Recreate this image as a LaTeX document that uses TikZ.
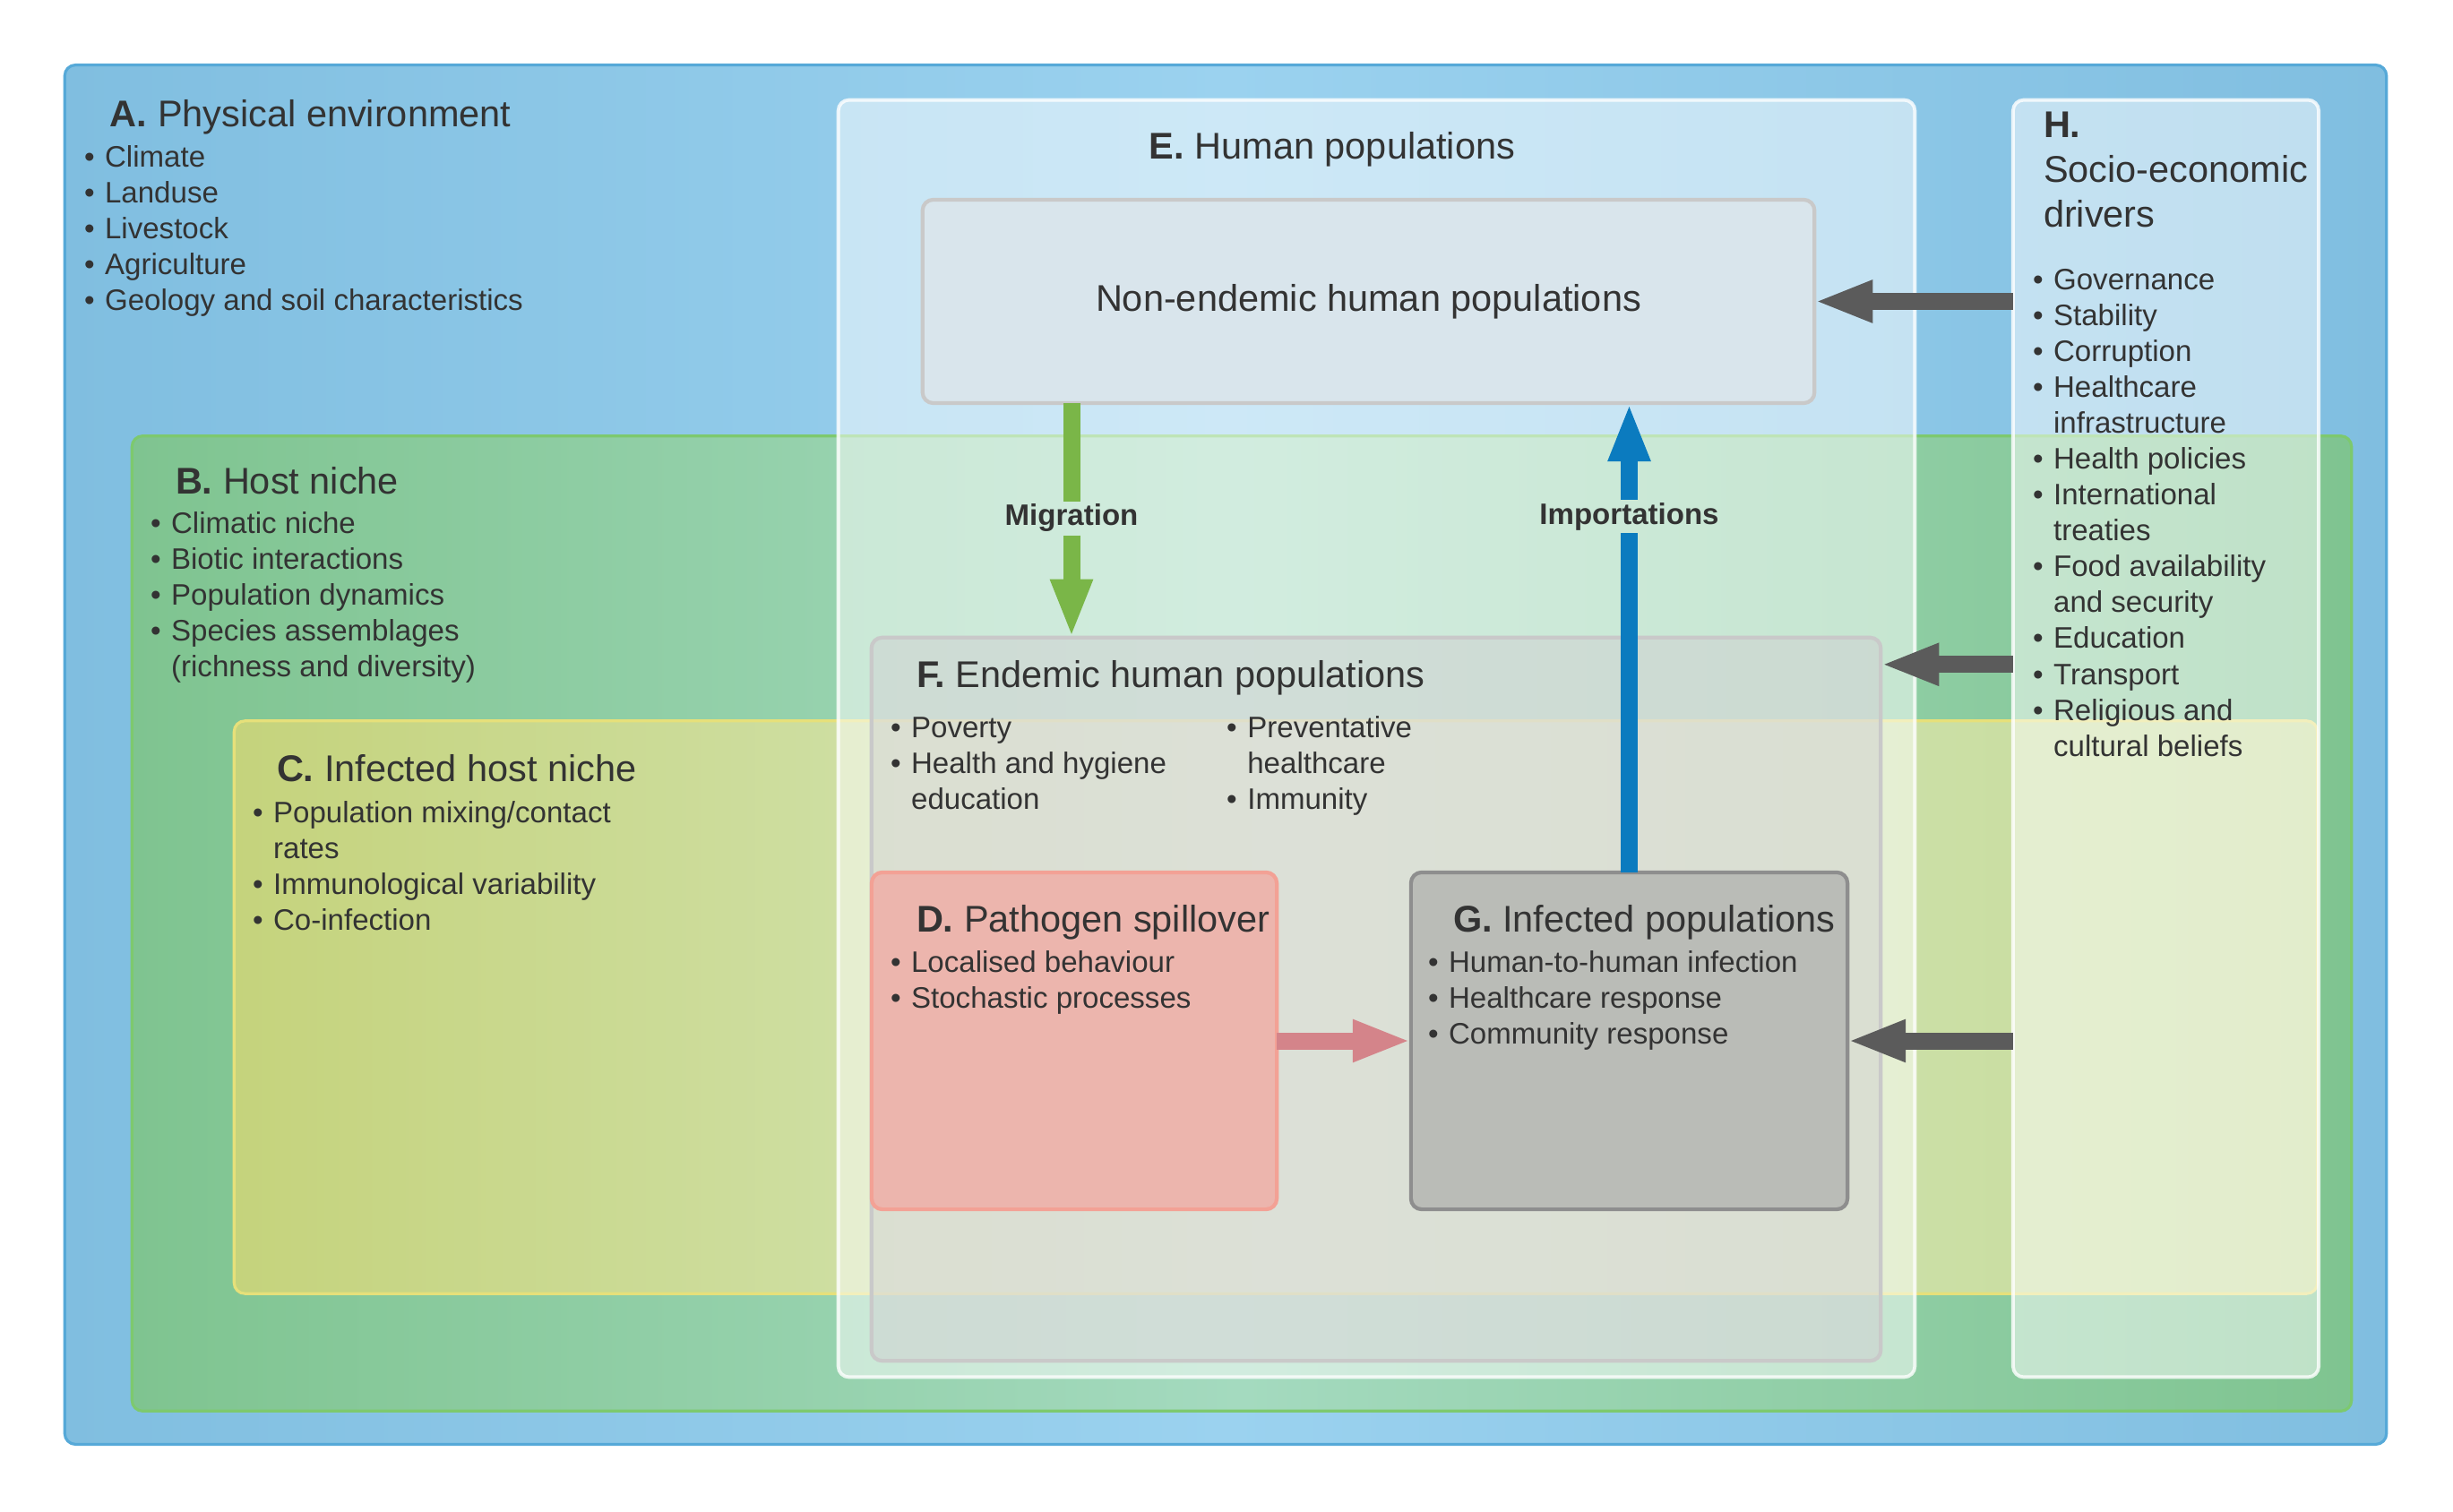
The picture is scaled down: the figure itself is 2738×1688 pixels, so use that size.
\documentclass[tikz,border=0pt]{standalone}
\usepackage{fontspec}
\setmainfont{Liberation Sans}
\usetikzlibrary{positioning}
\usetikzlibrary{arrows.meta}

\definecolor{txt}{HTML}{333333}
\definecolor{aedge}{HTML}{56A9D8}
\definecolor{aside}{HTML}{80BEE0}
\definecolor{amid}{HTML}{9BD2EF}
\definecolor{bedge}{HTML}{7DC96E}
\definecolor{bside}{HTML}{7FC490}
\definecolor{bmid}{HTML}{A4DABF}
\definecolor{cedge}{HTML}{E6E07A}
\definecolor{cleft}{HTML}{C5D37C}
\definecolor{cmid}{HTML}{D4E6BC}
\definecolor{cright}{HTML}{C6DB98}
\definecolor{nefill}{HTML}{D9E5EC}
\definecolor{popedge}{HTML}{C9C9C9}
\definecolor{endfill}{HTML}{D0D0D2}
\definecolor{spillfill}{HTML}{ECB5AD}
\definecolor{spilledge}{HTML}{F3A195}
\definecolor{inffill}{HTML}{BABCB7}
\definecolor{infedge}{HTML}{8E8E8E}
\definecolor{miggreen}{HTML}{7AB648}
\definecolor{impblue}{HTML}{0B7BBF}
\definecolor{drvgray}{HTML}{5B5B5B}
\definecolor{spillred}{HTML}{D4848A}

\newcommand{\bodyfont}{\fontsize{9.4}{11.4}\selectfont}
\newcommand{\headfont}{\fontsize{11.8}{14.2}\selectfont}
\newcommand{\itm}{\strut\makebox[0.7em][l]{\textbullet}}
\newcommand{\cnt}{\strut\makebox[0.7em]{}}

\begin{document}
\begin{tikzpicture}[x=0.01cm, y=-0.01cm,
  every node/.append style={text=txt, inner sep=0pt, outer sep=0pt},
  region/.style={rounded corners=0.12cm, line width=0.9pt},
  envzone/.style={region, draw=aedge, left color=aside, right color=aside, middle color=amid},
  hostzone/.style={region, draw=bedge, left color=bside, right color=bside, middle color=bmid},
  infzone/.style={region, draw=cedge, left color=cleft, right color=cright, middle color=cmid},
  humzone/.style={region, draw=white, draw opacity=0.8, fill=white, fill opacity=0.5, line width=1.1pt},
  popbox/.style={region, draw=popedge, fill=nefill, line width=1.2pt},
  endbox/.style={region, draw=popedge, fill=endfill, fill opacity=0.5, line width=1.2pt},
  spillbox/.style={region, draw=spilledge, fill=spillfill, line width=1.2pt},
  infbox/.style={region, draw=infedge, fill=inffill, line width=1.2pt},
  head/.style={anchor=base west, font=\headfont},
  items/.style={anchor=north west, align=left, font=\bodyfont},
  shaft/.style={line width=0.19cm},
  flow/.style={line width=0.19cm, -{Triangle[width=0.43cm,length=0.65cm]}},
  flowlabel/.style={anchor=base, font=\bodyfont\bfseries, inner sep=1pt}]
  \useasboundingbox (0,0) rectangle (2738,1688);
  \node[envzone, minimum width=25.90cm, minimum height=15.39cm] (a) at (1368,842.5) {};
  \node[hostzone, minimum width=24.76cm, minimum height=10.88cm] (b) at (1386,1031) {};
  \node[infzone, minimum width=23.24cm, minimum height=6.39cm] (c) at (1424,1124.5) {};
  \node[humzone, minimum width=12.01cm, minimum height=14.25cm] (e) at (1536.5,824.5) {};
  \node[humzone, minimum width=3.41cm, minimum height=14.25cm] (h) at (2417.5,824.5) {};
  \node[popbox, minimum width=9.95cm, minimum height=2.27cm, font=\headfont] (ne) at (1527.5,336.5) {Non-endemic human populations};
  \node[endbox, minimum width=11.26cm, minimum height=8.07cm] (f) at (1536,1115.5) {};
  \node[spillbox, minimum width=4.52cm, minimum height=3.76cm] (d) at (1199,1162) {};
  \node[infbox, minimum width=4.87cm, minimum height=3.76cm] (g) at (1818.5,1162) {};

  \node[head] (ta) at (123,142) {\textbf{A.} Physical environment};
  \node[items] (la) at (94,158) {\itm Climate\\\itm Landuse\\\itm Livestock\\\itm Agriculture\\\itm Geology and soil characteristics};
  \node[head] (tb) at (196,551) {\textbf{B.} Host niche};
  \node[items] (lb) at (168,567) {\itm Climatic niche\\\itm Biotic interactions\\\itm Population dynamics\\\itm Species assemblages\\\cnt (richness and diversity)};
  \node[head] (tc) at (309,872) {\textbf{C.} Infected host niche};
  \node[items] (lc) at (282,890) {\itm Population mixing/contact\\\cnt rates\\\itm Immunological variability\\\itm Co-infection};
  \node[head, anchor=base] (te) at (1487,178) {\textbf{E.} Human populations};
  \node[head] (tf) at (1023,767) {\textbf{F.} Endemic human populations};
  \node[items] (lf) at (994,795) {\itm Poverty\\\itm Health and hygiene\\\cnt education};
  \node[items, right=3.75cm of lf.north west, anchor=north west] (lf2) {\itm Preventative\\\cnt healthcare\\\itm Immunity};
  \node[head] (td) at (1023,1040) {\textbf{D.} Pathogen spillover};
  \node[items] (ld) at (994,1057) {\itm Localised behaviour\\\itm Stochastic processes};
  \node[head] (tg) at (1622,1040) {\textbf{G.} Infected populations};
  \node[items] (lg) at (1594,1057) {\itm Human-to-human infection\\\itm Healthcare response\\\itm Community response};
  \node[head, anchor=north west, align=left] (th) at (2281,119) {\strut\textbf{H.}\\Socio-economic\\drivers};
  \node[items] (lh) at (2269,295) {\itm Governance\\\itm Stability\\\itm Corruption\\\itm Healthcare\\\cnt infrastructure\\\itm Health policies\\\itm International\\\cnt treaties\\\itm Food availability\\\cnt and security\\\itm Education\\\itm Transport\\\itm Religious and\\\cnt cultural beliefs};

  \node[flowlabel] (mig) at (1196,587) {Migration};
  \node[flowlabel] (imp) at (1818.5,585) {Importations};
  \draw[shaft, miggreen] (mig.north |- ne.south) -- (mig.north);
  \draw[flow, miggreen] (mig.south) -- (mig.south |- f.north);
  \draw[shaft, impblue] (g.north) -- (imp.south);
  \draw[flow, impblue] (imp.north) -- (imp.north |- ne.south);
  \coordinate (fport) at ([yshift=-0.3cm]f.north east);
  \draw[flow, drvgray] (h.west |- ne.east) -- (ne.east);
  \draw[flow, drvgray] (h.west |- fport) -- (fport);
  \draw[flow, drvgray] (h.west |- g.east) -- (g.east);
  \draw[flow, spillred] (d.east) -- (g.west);
\end{tikzpicture}
\end{document}
